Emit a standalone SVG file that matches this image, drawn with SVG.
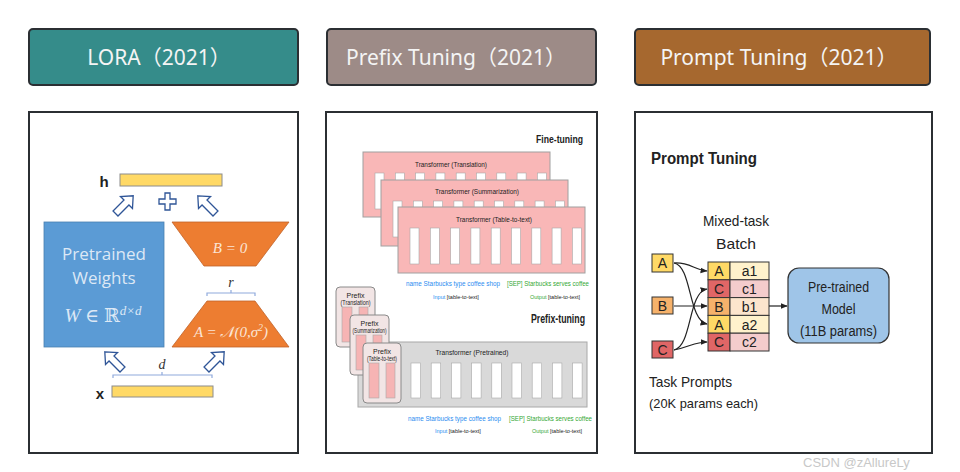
<svg xmlns="http://www.w3.org/2000/svg" width="960" height="472" viewBox="0 0 960 472">
<defs>
<style>
.hdr{stroke:#2b2f33;stroke-width:2}
.htxt{font-family:"Noto Sans","Noto Sans CJK SC",sans-serif;font-size:21px;fill:#f4f4f4;text-anchor:middle}
.panel{fill:#fff;stroke:#2b2f33;stroke-width:2}
.bar{fill:#ffd966;stroke:#8c8c8c;stroke-width:1}
.harrow{fill:#fff;stroke:#2f5597;stroke-width:1.3;stroke-linejoin:miter}
.brace{fill:none;stroke:#8faadc;stroke-width:1.2}
.math{font-family:"Liberation Serif","DejaVu Serif",serif;font-style:italic;fill:#fbe5d6;text-anchor:middle}
.wtxt{font-family:"Open Sans","Noto Sans",sans-serif;fill:#dde8f5;text-anchor:middle}
.tbox{fill:#f9b7b7;stroke:#a0a0a0;stroke-width:1}
.slot{fill:#fff;stroke:#a8a8a8;stroke-width:0.6}
.tiny{font-family:"Liberation Sans",sans-serif;font-size:7px;fill:#222;text-anchor:middle}
.card{fill:#f2e5e5;stroke:#8a8a8a;stroke-width:1}
.pslot{fill:#f6b4b4;stroke:#a8a8a8;stroke-width:0.6}
.blue{fill:#2b8cf0}
.green{fill:#34a834}
.row{font-family:"Liberation Sans",sans-serif;font-size:6.3px}
.lbl{font-family:"Liberation Sans",sans-serif;font-size:5.5px}
.sec{font-family:"Liberation Sans",sans-serif;font-weight:bold;fill:#222}
.pt{font-family:"Liberation Sans",sans-serif;fill:#222}
.cell{stroke:#333;stroke-width:1}
.ctxt{font-family:"Liberation Sans",sans-serif;font-size:14px;fill:#222;text-anchor:middle}
.conn{fill:none;stroke:#222;stroke-width:1.2}
</style>
<marker id="ah" viewBox="0 0 10 10" refX="9" refY="5" markerWidth="6" markerHeight="6" orient="auto">
<path d="M0,1 L10,5 L0,9 Z" fill="#222"/>
</marker>
<path id="blk" d="M0,-13 L8.5,-3.5 L3.5,-3.5 L3.5,12 L-3.5,12 L-3.5,-3.5 L-8.5,-3.5 Z"/>
</defs>
<rect width="960" height="472" fill="#fff"/>

<!-- headers -->
<g id="hdr-lora">
<rect class="hdr" x="29" y="29" width="269" height="56" rx="4" fill="#358c8a"/>
<text class="htxt" x="159" y="65">LORA（2021）</text>
</g>
<g id="hdr-prefix">
<rect class="hdr" x="327" y="29" width="269" height="56" rx="4" fill="#9d8b87"/>
<text class="htxt" x="456" y="65">Prefix Tuning（2021）</text>
</g>
<g id="hdr-prompt">
<rect class="hdr" x="635" y="29" width="295" height="56" rx="4" fill="#a6682f"/>
<text class="htxt" x="779" y="65">Prompt Tuning（2021）</text>
</g>

<!-- LORA panel -->
<g id="panel-lora">
<rect class="panel" x="29" y="112" width="269" height="341"/>
<text x="104" y="187" font-family="Liberation Sans,sans-serif" font-size="15" font-weight="bold" fill="#222" text-anchor="middle">h</text>
<rect class="bar" x="120" y="174" width="102" height="12"/>
<use href="#blk" class="harrow" transform="translate(124,205) rotate(45)"/>
<use href="#blk" class="harrow" transform="translate(207,205) rotate(-45)"/>
<path class="harrow" d="M165,193 h5 v6 h6 v5 h-6 v6 h-5 v-6 h-6 v-5 h6 Z"/>
<rect x="44" y="222" width="120" height="125" fill="#5b9bd5" stroke="#4a7fb0" stroke-width="0.8"/>
<text class="wtxt" x="104" y="260" font-size="17">Pretrained</text>
<text class="wtxt" x="104" y="284" font-size="17">Weights</text>
<text x="103" y="322" font-family="Liberation Serif,DejaVu Serif,serif" font-size="19" fill="#dde8f5" text-anchor="middle"><tspan font-style="italic">W</tspan> ∈ ℝ<tspan font-size="13" dy="-7" font-style="italic">d×d</tspan></text>
<polygon points="172,222 289,222 256,266 204,266" fill="#ed7d31" stroke="#c0622a" stroke-width="0.8"/>
<text class="math" x="230" y="253" font-size="15">B = 0</text>
<path class="brace" d="M207,296 v-3 h48 v3 M231,293 v-3"/>
<text x="231" y="287" font-family="Liberation Serif,serif" font-style="italic" font-size="14" fill="#333" text-anchor="middle">r</text>
<polygon points="207,301 255,301 289,347 172,347" fill="#ed7d31" stroke="#c0622a" stroke-width="0.8"/>
<text class="math" x="231" y="337" font-size="15">A = 𝒩(0,σ<tspan font-size="10" dy="-6">2</tspan><tspan dy="6">)</tspan></text>
<use href="#blk" class="harrow" transform="translate(114,361) rotate(-45)"/>
<use href="#blk" class="harrow" transform="translate(215,361) rotate(45)"/>
<path class="brace" d="M113,378 v-3 h99 v3 M162,375 v-3"/>
<text x="162" y="369" font-family="Liberation Serif,serif" font-style="italic" font-size="14" fill="#333" text-anchor="middle">d</text>
<text x="100" y="399" font-family="Liberation Sans,sans-serif" font-size="15" font-weight="bold" fill="#222" text-anchor="middle">x</text>
<rect class="bar" x="112" y="386" width="101" height="11"/>
</g>

<!-- Prefix panel -->
<g id="panel-prefix">
<rect class="panel" x="326" y="112" width="271" height="341"/>
<text class="sec" x="583" y="143" font-size="11" text-anchor="end" textLength="47" lengthAdjust="spacingAndGlyphs">Fine-tuning</text>
<g id="ft-translation">
<rect class="tbox" x="363" y="152" width="187" height="65"/>
<text class="tiny" x="451" y="167" textLength="72" lengthAdjust="spacingAndGlyphs">Transformer (Translation)</text>
<g transform="translate(375,173)">
<rect class="slot" x="0" y="0" width="9" height="36"/><rect class="slot" x="20.3" y="0" width="9" height="36"/><rect class="slot" x="40.6" y="0" width="9" height="36"/><rect class="slot" x="60.9" y="0" width="9" height="36"/><rect class="slot" x="81.2" y="0" width="9" height="36"/><rect class="slot" x="101.5" y="0" width="9" height="36"/><rect class="slot" x="121.8" y="0" width="9" height="36"/><rect class="slot" x="142.1" y="0" width="9" height="36"/><rect class="slot" x="162.4" y="0" width="9" height="36"/>
</g>
</g>
<g id="ft-summarization">
<rect class="tbox" x="381" y="180" width="187" height="66"/>
<text class="tiny" x="477" y="194" textLength="84" lengthAdjust="spacingAndGlyphs">Transformer (Summarization)</text>
<g transform="translate(393,201)">
<rect class="slot" x="0" y="0" width="9" height="36"/><rect class="slot" x="20.3" y="0" width="9" height="36"/><rect class="slot" x="40.6" y="0" width="9" height="36"/><rect class="slot" x="60.9" y="0" width="9" height="36"/><rect class="slot" x="81.2" y="0" width="9" height="36"/><rect class="slot" x="101.5" y="0" width="9" height="36"/><rect class="slot" x="121.8" y="0" width="9" height="36"/><rect class="slot" x="142.1" y="0" width="9" height="36"/><rect class="slot" x="162.4" y="0" width="9" height="36"/>
</g>
</g>
<g id="ft-table">
<rect class="tbox" x="398" y="207" width="187" height="66"/>
<text class="tiny" x="494" y="222" textLength="76" lengthAdjust="spacingAndGlyphs">Transformer (Table-to-text)</text>
<g transform="translate(410,228)">
<rect class="slot" x="0" y="0" width="9" height="36"/><rect class="slot" x="20.3" y="0" width="9" height="36"/><rect class="slot" x="40.6" y="0" width="9" height="36"/><rect class="slot" x="60.9" y="0" width="9" height="36"/><rect class="slot" x="81.2" y="0" width="9" height="36"/><rect class="slot" x="101.5" y="0" width="9" height="36"/><rect class="slot" x="121.8" y="0" width="9" height="36"/><rect class="slot" x="142.1" y="0" width="9" height="36"/><rect class="slot" x="162.4" y="0" width="9" height="36"/>
</g>
</g>
<text class="row blue" x="406" y="286" textLength="94" lengthAdjust="spacingAndGlyphs">name Starbucks type coffee shop</text>
<text class="row green" x="507" y="286" textLength="82" lengthAdjust="spacingAndGlyphs">[SEP] Starbucks serves coffee</text>
<text class="lbl" x="433" y="299"><tspan class="blue">Input</tspan> <tspan fill="#222">[table-to-text]</tspan></text>
<text class="lbl" x="530" y="299"><tspan class="green">Output</tspan> <tspan fill="#222">[table-to-text]</tspan></text>
<text class="sec" x="585" y="323" font-size="12" text-anchor="end" textLength="54" lengthAdjust="spacingAndGlyphs">Prefix-tuning</text>
<g id="pt-pretrained">
<rect x="358" y="342" width="229" height="65" fill="#d9d9d9" stroke="#a8a8a8" stroke-width="1"/>
<text class="tiny" x="472" y="355" textLength="73" lengthAdjust="spacingAndGlyphs">Transformer (Pretrained)</text>
<g transform="translate(411,363)">
<rect class="slot" x="0" y="0" width="9.5" height="35"/><rect class="slot" x="20.2" y="0" width="9.5" height="35"/><rect class="slot" x="40.4" y="0" width="9.5" height="35"/><rect class="slot" x="60.6" y="0" width="9.5" height="35"/><rect class="slot" x="80.8" y="0" width="9.5" height="35"/><rect class="slot" x="101" y="0" width="9.5" height="35"/><rect class="slot" x="121.2" y="0" width="9.5" height="35"/><rect class="slot" x="141.4" y="0" width="9.5" height="35"/><rect class="slot" x="161.6" y="0" width="9.5" height="35"/>
</g>
</g>
<g id="prefix-translation">
<rect class="card" x="336" y="287" width="39" height="60" rx="4"/>
<text class="tiny" x="355.5" y="298" font-size="6">Prefix</text>
<text class="tiny" x="355.5" y="305" font-size="5" textLength="30" lengthAdjust="spacingAndGlyphs">(Translation)</text>
<rect class="pslot" x="342" y="307" width="10" height="35"/><rect class="pslot" x="359" y="307" width="9" height="35"/>
</g>
<g id="prefix-summarization">
<rect class="card" x="350" y="315" width="39" height="60" rx="4"/>
<text class="tiny" x="369.5" y="326" font-size="6">Prefix</text>
<text class="tiny" x="369.5" y="333" font-size="5" textLength="34" lengthAdjust="spacingAndGlyphs">(Summarization)</text>
<rect class="pslot" x="356" y="335" width="10" height="35"/><rect class="pslot" x="373" y="335" width="9" height="35"/>
</g>
<g id="prefix-table">
<rect class="card" x="363" y="343" width="38" height="60" rx="4"/>
<text class="tiny" x="382" y="354" font-size="6">Prefix</text>
<text class="tiny" x="382" y="361" font-size="5" textLength="30" lengthAdjust="spacingAndGlyphs">(Table-to-text)</text>
<rect class="pslot" x="369" y="363" width="10" height="35"/><rect class="pslot" x="386" y="363" width="9" height="35"/>
</g>
<text class="row blue" x="408" y="421" textLength="93" lengthAdjust="spacingAndGlyphs">name Starbucks type coffee shop</text>
<text class="row green" x="509" y="421" textLength="83" lengthAdjust="spacingAndGlyphs">[SEP] Starbucks serves coffee</text>
<text class="lbl" x="435" y="433"><tspan class="blue">Input</tspan> <tspan fill="#222">[table-to-text]</tspan></text>
<text class="lbl" x="532" y="433"><tspan class="green">Output</tspan> <tspan fill="#222">[table-to-text]</tspan></text>
</g>

<!-- Prompt tuning panel -->
<g id="panel-prompt">
<rect class="panel" x="635" y="112" width="297" height="341"/>
<text class="sec" x="651" y="164" font-size="16" textLength="106" lengthAdjust="spacingAndGlyphs">Prompt Tuning</text>
<text class="pt" x="736" y="226" font-size="15" text-anchor="middle" textLength="66" lengthAdjust="spacingAndGlyphs">Mixed-task</text>
<text class="pt" x="736" y="249" font-size="15" text-anchor="middle" textLength="40" lengthAdjust="spacingAndGlyphs">Batch</text>
<g id="task-a"><rect class="cell" x="652" y="254" width="21" height="18" fill="#ffd966"/><text class="ctxt" x="662.5" y="268">A</text></g>
<g id="task-b"><rect class="cell" x="652" y="297" width="21" height="17" fill="#f6b26b"/><text class="ctxt" x="662.5" y="311">B</text></g>
<g id="task-c"><rect class="cell" x="652" y="341" width="21" height="17" fill="#e06666"/><text class="ctxt" x="662.5" y="355">C</text></g>
<g id="batch">
<rect class="cell" x="708" y="262" width="22" height="17.8" fill="#ffd966"/><rect class="cell" x="730" y="262" width="39" height="17.8" fill="#fff2cc"/>
<rect class="cell" x="708" y="279.8" width="22" height="17.8" fill="#e06666"/><rect class="cell" x="730" y="279.8" width="39" height="17.8" fill="#f4cccc"/>
<rect class="cell" x="708" y="297.6" width="22" height="17.8" fill="#f6b26b"/><rect class="cell" x="730" y="297.6" width="39" height="17.8" fill="#fce5cd"/>
<rect class="cell" x="708" y="315.4" width="22" height="17.8" fill="#ffd966"/><rect class="cell" x="730" y="315.4" width="39" height="17.8" fill="#fff2cc"/>
<rect class="cell" x="708" y="333.2" width="22" height="17.8" fill="#e06666"/><rect class="cell" x="730" y="333.2" width="39" height="17.8" fill="#f4cccc"/>
<text class="ctxt" x="719" y="276">A</text><text class="ctxt" x="749.5" y="276">a1</text>
<text class="ctxt" x="719" y="294">C</text><text class="ctxt" x="749.5" y="294">c1</text>
<text class="ctxt" x="719" y="311.5">B</text><text class="ctxt" x="749.5" y="311.5">b1</text>
<text class="ctxt" x="719" y="329.5">A</text><text class="ctxt" x="749.5" y="329.5">a2</text>
<text class="ctxt" x="719" y="347">C</text><text class="ctxt" x="749.5" y="347">c2</text>
</g>
<g id="model">
<rect x="788" y="268" width="101" height="75" rx="11" fill="#9fc5e8" stroke="#333" stroke-width="1.2"/>
<text class="pt" x="838.5" y="292" font-size="14" text-anchor="middle" textLength="61" lengthAdjust="spacingAndGlyphs">Pre-trained</text>
<text class="pt" x="838.5" y="314" font-size="14" text-anchor="middle" textLength="34" lengthAdjust="spacingAndGlyphs">Model</text>
<text class="pt" x="838.5" y="336" font-size="14" text-anchor="middle" textLength="77" lengthAdjust="spacingAndGlyphs">(11B params)</text>
</g>
<text class="pt" x="649" y="387" font-size="15" textLength="83" lengthAdjust="spacingAndGlyphs">Task Prompts</text>
<text class="pt" x="649" y="408" font-size="13" textLength="109" lengthAdjust="spacingAndGlyphs">(20K params each)</text>
</g>

<g id="connectors">
<path class="conn" marker-end="url(#ah)" d="M674,263 C690,262 694,270 707,271"/>
<path class="conn" marker-end="url(#ah)" d="M674,263 C692,266 688,320 707,324"/>
<path class="conn" marker-end="url(#ah)" d="M674,306 L707,306"/>
<path class="conn" marker-end="url(#ah)" d="M674,350 C692,347 688,292 707,289"/>
<path class="conn" marker-end="url(#ah)" d="M674,350 C690,347 694,342 707,342"/>
<path class="conn" marker-end="url(#ah)" d="M769,306 L787,306"/>
</g>

<text x="803" y="467" font-family="Liberation Sans,sans-serif" font-size="13" fill="#c8c8c8">CSDN @zAllureLy</text>
</svg>
